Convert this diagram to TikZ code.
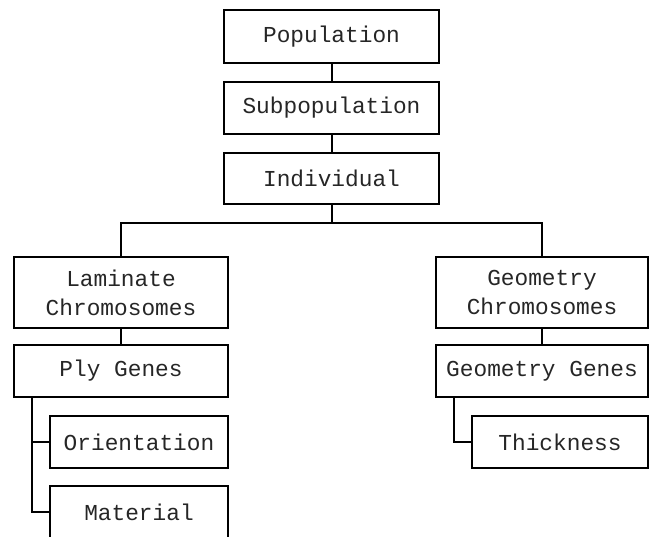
\documentclass[tikz,border=0pt]{standalone}
\usepackage{fontspec}
\setmonofont{Liberation Mono}
\usepackage{tikz}
\usetikzlibrary{positioning, calc}

\begin{document}
\begin{tikzpicture}[x=1pt, y=1pt,
  box/.style={draw, line width=2pt, rectangle, align=center, inner sep=0pt,
    font=\ttfamily\fontsize{22.8}{29}\selectfont, text=black!85},
  link/.style={draw, line width=2pt}]
  \useasboundingbox (0,0) rectangle (656,-536);

  % top of the hierarchy
  \node[box, minimum width=215pt, minimum height=53pt] (pop) at (331.5, -36.5) {Population};
  \node[box, minimum width=215pt, minimum height=52pt] (subpop) at (331.5, -108) {Subpopulation};
  \node[box, minimum width=215pt, minimum height=51pt] (indiv) at (331.5, -178.5) {Individual};

  % chromosomes
  \node[box, minimum width=214pt, minimum height=71pt] (lam) at (121, -292.5) {Laminate\\Chromosomes};
  \node[box, minimum width=212pt, minimum height=71pt] (geo) at (542, -292.5) {Geometry\\Chromosomes};

  % genes
  \node[box, minimum width=214pt, minimum height=52pt] (ply) at (121, -371) {Ply Genes};
  \node[box, minimum width=212pt, minimum height=52pt] (geogenes) at (542, -371) {Geometry Genes};

  % gene values
  \node[box, minimum width=178pt, minimum height=52pt] (orient) at (139, -442) {Orientation};
  \node[box, minimum width=178pt, minimum height=52pt] (mat) at (139, -512) {Material};
  \node[box, minimum width=176pt, minimum height=52pt] (thick) at (560, -442) {Thickness};

  % connectors
  \draw[link] (pop) -- (subpop);
  \draw[link] (subpop) -- (indiv);
  \draw[link] (indiv.south) -- ++(0,-18) coordinate (split);
  \draw[link] (split) -| (lam.north);
  \draw[link] (split) -| (geo.north);
  \draw[link] (lam) -- (ply);
  \draw[link] (geo) -- (geogenes);
  \draw[link] ([xshift=19pt]ply.south west) |- (orient.west);
  \draw[link] ([xshift=19pt]ply.south west) |- (mat.west);
  \draw[link] ([xshift=19pt]geogenes.south west) |- (thick.west);
\end{tikzpicture}
\end{document}
